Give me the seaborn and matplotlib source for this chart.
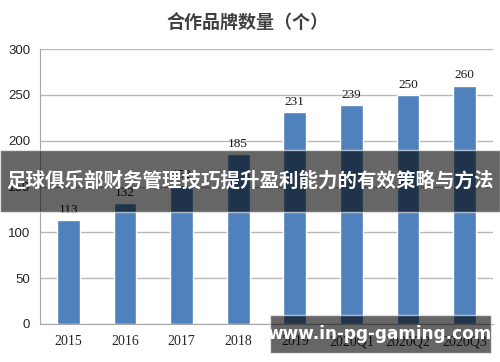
import matplotlib
matplotlib.use('Agg')
import matplotlib.pyplot as plt
from matplotlib.patches import Rectangle
from matplotlib.ticker import FixedLocator
import seaborn as sns

categories = ['2015', '2016', '2017', '2018', '2019', '2020Q1', '2020Q2', '2020Q3']
brand_counts = [113, 132, 152, 185, 231, 239, 250, 260]
y_ticks = [0, 50, 100, 150, 200, 250, 300]

title_text = '合作品牌数量（个）'
banner_text = '足球俱乐部财务管理技巧提升盈利能力的有效策略与方法'
watermark_text = 'www.in-pg-gaming.com'

sns.set_style('white')
plt.rcParams['font.family'] = ['Noto Sans CJK SC', 'DejaVu Sans']

fig = plt.figure(figsize=(5, 3.62), dpi=100)
ax = fig.add_axes([40 / 500, 1 - 324 / 362, 453 / 500, 275 / 362])

sns.barplot(x=categories, y=brand_counts, color='#4f81bd', width=0.4,
            saturation=1, ax=ax, zorder=2)

ax.set_ylim(0, 300)
ax.set_xlim(-0.5, len(categories) - 0.5)
ax.set_yticks(y_ticks)
ax.yaxis.grid(True, color='#b8b8b8', linewidth=1, zorder=0)
ax.set_axisbelow(True)

for side in ['top', 'right']:
    ax.spines[side].set_visible(False)
ax.spines['left'].set_color('#a6a6a6')
ax.spines['bottom'].set_color('#a6a6a6')

ax.set_xlabel('')
ax.set_ylabel('')
ax.tick_params(axis='x', which='major', length=0, pad=8)
ax.xaxis.set_minor_locator(FixedLocator([i - 0.5 for i in range(len(categories) + 1)]))
ax.tick_params(axis='x', which='minor', length=4, color='#a6a6a6', direction='out')
ax.tick_params(axis='y', length=4, color='#a6a6a6', direction='out', pad=3)

for lbl in ax.get_xticklabels():
    lbl.set_fontfamily('Liberation Serif')
    lbl.set_fontsize(10)
    lbl.set_color('#262626')
for lbl in ax.get_yticklabels():
    lbl.set_fontfamily('Liberation Sans')
    lbl.set_fontsize(9.5)
    lbl.set_color('#262626')

ax.bar_label(ax.containers[0], labels=[str(v) for v in brand_counts],
             padding=3, fontsize=9.5, family='Liberation Serif', color='#1a1a1a')

fig.text(247 / 500, 1 - 22 / 362, title_text, ha='center', va='center',
         fontsize=13, fontweight='bold', color='#404040')

# overlay banner
fig.patches.append(Rectangle((0, 1 - 212 / 362), 1, 62 / 362,
                             transform=fig.transFigure, facecolor='black',
                             alpha=0.6, zorder=10))
fig.text(0.5, 1 - 181 / 362, banner_text, ha='center', va='center',
         fontsize=14, fontweight='bold', color='white', zorder=11)

# watermark box
fig.patches.append(Rectangle((270 / 500, 1 - 353 / 362), 221 / 500, 38 / 362,
                             transform=fig.transFigure, facecolor='black',
                             alpha=0.6, zorder=10))
fig.text(380 / 500, 1 - 334 / 362, watermark_text, ha='center', va='center',
         fontsize=12.2, fontweight='bold', color='white', zorder=11,
         family=['DejaVu Sans'])

fig.savefig('out.png', dpi=100)
